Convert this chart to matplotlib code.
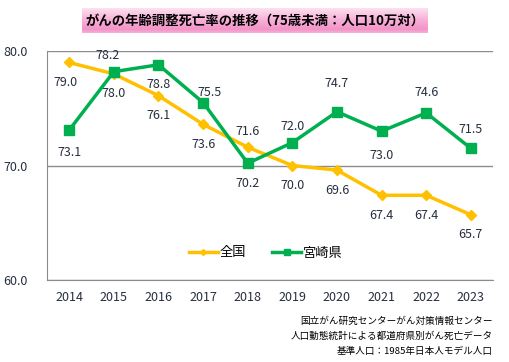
import numpy as np
import matplotlib.pyplot as plt

plt.rcParams['font.family'] = ['Noto Sans CJK JP', 'DejaVu Sans']

# データ
years = ['2014', '2015', '2016', '2017', '2018', '2019', '2020', '2021', '2022', '2023']
zenkoku = [79.0, 78.0, 76.1, 73.6, 71.6, 70.0, 69.6, 67.4, 67.4, 65.7]
miyazaki = [73.1, 78.2, 78.8, 75.5, 70.2, 72.0, 74.7, 73.0, 74.6, 71.5]
# ラベル位置 (ピクセルのずれ)
zen_dy = [-20, -20, -20, -20, 16, -20, -20, -20, -20, -20]
miy_dy = [-22, 16, -20, 10, -20, 16, 28, -24, 20, 19]
miy_dx = [0, -6, 0, 6, 0, 0, 0, 0, 0, 0]
zen_dx = [-4, 0, 0, 0, 0, 0, 0, 0, 0, 0]
source_lines = ['国立がん研究センターがん対策情報センター',
                '人口動態統計による都道府県別がん死亡データ',
                '基準人口：1985年日本人モデル人口']

YELLOW = '#FFC000'
GREEN = '#00B050'
TXT = '#262F3F'

fig = plt.figure(figsize=(5.1, 3.62), dpi=100)
ax = fig.add_axes([0.092, 0.2265, 0.875, 0.6325])

x = np.arange(len(years))
ax.plot(x, zenkoku, color=YELLOW, lw=2.5, marker='D', ms=5, label='全国', zorder=3)
ax.plot(x, miyazaki, color=GREEN, lw=2.5, marker='s', ms=6.5, label='宮崎県', zorder=4)

for i in range(len(years)):
    ax.annotate(f'{zenkoku[i]:.1f}', (x[i], zenkoku[i]), xytext=(zen_dx[i], zen_dy[i]),
                textcoords='offset pixels', ha='center', va='center', fontsize=9, color=TXT)
    ax.annotate(f'{miyazaki[i]:.1f}', (x[i], miyazaki[i]), xytext=(miy_dx[i], miy_dy[i]),
                textcoords='offset pixels', ha='center', va='center', fontsize=9, color=TXT)

ax.set_xlim(-0.5, len(years) - 0.5)
ax.set_ylim(60, 80)
ax.set_yticks([60, 70, 80])
ax.set_yticklabels(['60.0', '70.0', '80.0'])
ax.set_xticks(x)
ax.set_xticklabels(years)
ax.tick_params(length=0, labelsize=9, colors=TXT, pad=8)
ax.tick_params(axis='y', pad=14)
ax.grid(axis='y', color='#8C8C8C', lw=1)
ax.set_axisbelow(True)
for s in ['top', 'right']:
    ax.spines[s].set_visible(False)
for s in ['left', 'bottom']:
    ax.spines[s].set_color('#8C8C8C')

ax.legend(loc='center', bbox_to_anchor=(0.49, 0.118), ncol=2, frameon=False,
          fontsize=9.5, handlelength=2.2, columnspacing=2.0, handletextpad=0.1,
          markerscale=0.6)

# タイトル (ピンクのグラデーション)
tax = fig.add_axes([0.161, 0.909, 0.678, 0.069])
stops = np.array([[0.99, 0.88, 0.94], [0.97, 0.70, 0.85], [0.95, 0.58, 0.78], [0.97, 0.68, 0.84]])
t = np.linspace(0, 1, 60)
img = np.array([np.interp(t, [0, 0.45, 0.85, 1], stops[:, c]) for c in range(3)]).T
tax.imshow(img[:, None, :], aspect='auto', extent=[0, 1, 0, 1])
tax.set_axis_off()
tax.text(0.5, 0.5, 'がんの年齢調整死亡率の推移（75歳未満：人口10万対）', ha='center', va='center',
         fontsize=9.6, fontweight='bold', color='black')

for k, line in enumerate(source_lines):
    fig.text(0.967, 1 - (321 + 15 * k) / 362, line, ha='right', va='center',
             fontsize=6.9, color='black')

fig.savefig('out.png')
